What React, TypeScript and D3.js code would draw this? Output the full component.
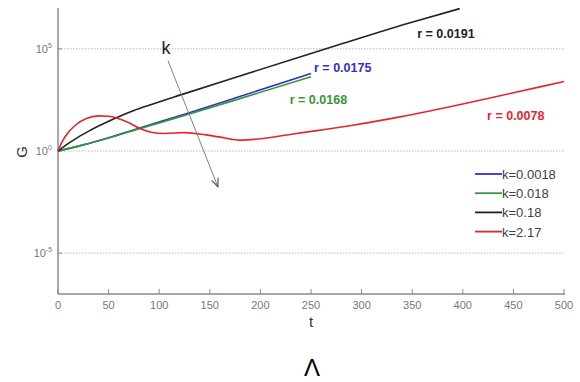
import React from "react";
import * as d3 from "d3";

// Growth G(t) for four values of k, stored as log10(G) at sample times t.
const tBlue = [0, 25, 50, 79, 125, 175, 250];
const logBlue = [0, 0.3, 0.65, 1.1, 1.8, 2.59, 3.8];

const tGreen = [0, 25, 50, 79, 125, 175, 250];
const logGreen = [0, 0.3, 0.64, 1.07, 1.74, 2.49, 3.64];

const tBlack = [0, 10, 20, 30, 40, 50, 60, 75, 90, 122, 175, 250, 348, 397];
const logBlack = [0, 0.36, 0.68, 0.96, 1.22, 1.46, 1.68, 1.98, 2.24, 2.76, 3.6, 4.77, 6.28, 6.97];

const tRed = [0, 3, 7, 17, 28, 40, 50, 58, 70, 81, 92, 105, 125, 145, 160, 172, 180, 200, 236, 290, 338, 400, 450, 500];
const logRed = [0, 0.35, 0.7, 1.26, 1.59, 1.72, 1.7, 1.62, 1.38, 1.1, 0.92, 0.86, 0.9, 0.8, 0.68, 0.57, 0.53, 0.6, 0.86, 1.25, 1.67, 2.3, 2.85, 3.4];

const legendLabels = ["k=0.0018", "k=0.018", "k=0.18", "k=2.17"];
const seriesColors = ["#3030c8", "#3a953a", "#222222", "#e5252f"];
const rateLabels = ["r = 0.0175", "r = 0.0168", "r = 0.0191", "r = 0.0078"];

const xTicks = [0, 50, 100, 150, 200, 250, 300, 350, 400, 450, 500];
const yTickExps = [5, 0, -5];

export default function App() {
  const W = 580;
  const H = 382;
  const x = d3.scaleLinear().domain([0, 500]).range([58, 564]);
  const y = d3.scaleLog().domain([1e-7, 1e7]).range([294, 8]);

  const line = d3
    .line<[number, number]>()
    .x((d) => x(d[0]))
    .y((d) => y(Math.pow(10, d[1])))
    .curve(d3.curveMonotoneX);

  const series = [
    { t: tBlue, v: logBlue },
    { t: tGreen, v: logGreen },
    { t: tBlack, v: logBlack },
    { t: tRed, v: logRed },
  ];

  // label anchors in data units (t, log10 G)
  const rateAnchors: [number, number][] = [
    [253, 3.87],
    [229, 2.3],
    [355, 5.55],
    [424, 1.52],
  ];

  const axisGray = "#8a8a8a";
  const font = "'Liberation Sans', Arial, sans-serif";

  // arrow for increasing k, in data units
  const a0: [number, number] = [108.7, 4.42];
  const a1: [number, number] = [158, -1.75];
  const ax0 = x(a0[0]);
  const ay0 = y(Math.pow(10, a0[1]));
  const ax1 = x(a1[0]);
  const ay1 = y(Math.pow(10, a1[1]));
  const ang = Math.atan2(ay1 - ay0, ax1 - ax0);
  const hl = 9;
  const hw = 0.4;

  return (
    <svg
      width={W}
      height={H}
      style={{ position: "absolute", left: 0, top: 0, background: "#fff" }}
      fontFamily={font}
    >
      {/* dotted grid lines at the decade ticks */}
      {yTickExps.map((e) => (
        <line
          key={"g" + e}
          x1={x(0)}
          x2={x(500)}
          y1={y(Math.pow(10, e))}
          y2={y(Math.pow(10, e))}
          stroke="#b8b8b8"
          strokeWidth={1}
          strokeDasharray="1.5,1.5"
        />
      ))}

      {/* axes */}
      <line x1={x(0)} x2={x(0)} y1={8} y2={294} stroke={axisGray} strokeWidth={1.5} />
      <line x1={x(0)} x2={x(500) + 1} y1={294} y2={294} stroke={axisGray} strokeWidth={1.5} />

      {xTicks.map((t) => (
        <g key={"xt" + t}>
          <line x1={x(t)} x2={x(t)} y1={294} y2={289} stroke={axisGray} strokeWidth={1} />
          <text x={x(t)} y={309} fontSize={11} fill="#777" textAnchor="middle">
            {t}
          </text>
        </g>
      ))}

      {yTickExps.map((e) => (
        <g key={"yt" + e}>
          <line
            x1={x(0)}
            x2={x(0) + 4}
            y1={y(Math.pow(10, e))}
            y2={y(Math.pow(10, e))}
            stroke={axisGray}
            strokeWidth={1}
          />
          <text x={e < 0 ? 46 : 48} y={y(Math.pow(10, e)) + 4} fontSize={11} fill="#777" textAnchor="end">
            10
          </text>
          <text x={e < 0 ? 46 : 48} y={y(Math.pow(10, e)) - 1} fontSize={7} fill="#777" textAnchor="start">
            {e}
          </text>
        </g>
      ))}

      {/* axis titles */}
      <text x={311} y={327} fontSize={15} fill="#333" textAnchor="middle">
        t
      </text>
      <text
        transform={`translate(27,152) rotate(-90)`}
        fontSize={15}
        fill="#333"
        textAnchor="middle"
      >
        G
      </text>

      {/* curves */}
      {series.map((s, i) => (
        <path
          key={"s" + i}
          d={line(s.t.map((t, j) => [t, s.v[j]] as [number, number])) || ""}
          fill="none"
          stroke={seriesColors[i]}
          strokeWidth={1.6}
        />
      ))}

      {/* rate annotations */}
      {rateLabels.map((r, i) => (
        <text
          key={"r" + i}
          x={x(rateAnchors[i][0])}
          y={y(Math.pow(10, rateAnchors[i][1]))}
          fontSize={12.5}
          fontWeight="bold"
          fill={seriesColors[i]}
        >
          {r}
        </text>
      ))}

      {/* k arrow */}
      <line x1={ax0} y1={ay0} x2={ax1} y2={ay1} stroke="#808080" strokeWidth={1} />
      <path
        d={`M${ax1 - hl * Math.cos(ang - hw)},${ay1 - hl * Math.sin(ang - hw)} L${ax1},${ay1} L${ax1 - hl * Math.cos(ang + hw)},${ay1 - hl * Math.sin(ang + hw)}`}
        fill="none"
        stroke="#555"
        strokeWidth={1.2}
      />
      <text x={166} y={54} fontSize={18} fill="#222" textAnchor="middle">
        k
      </text>

      {/* legend */}
      {legendLabels.map((lab, i) => (
        <g key={"l" + i} transform={`translate(475,${174 + i * 19.2})`}>
          <line x1={0} x2={27} y1={0} y2={0} stroke={seriesColors[i]} strokeWidth={1.8} />
          <text x={27} y={5} fontSize={13} fill="#404040">
            {lab}
          </text>
        </g>
      ))}

      {/* panel letter */}
      <text x={312} y={376} fontSize={24} fill="#000" textAnchor="middle">
        Λ
      </text>
    </svg>
  );
}
